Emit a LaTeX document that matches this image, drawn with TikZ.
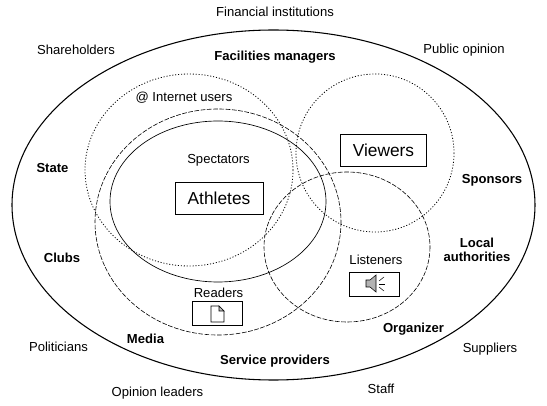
\documentclass[tikz,border=0pt]{standalone}
\usepackage{fontspec}
\setmainfont{Liberation Sans}
\usepackage{tikz}
\tikzset{
  lab/.style={font=\fontsize{9.8}{11}\selectfont,inner sep=0pt,yshift=-0.5pt},
  blab/.style={font=\fontsize{9.8}{10.6}\selectfont\bfseries,inner sep=0pt,align=center,yshift=-0.5pt},
  bbox/.style={draw,line width=0.6pt,minimum width=#1,inner sep=0pt},
  dotline/.style={line width=0.6pt,dash pattern=on 0.8pt off 1.4pt},
  dashline/.style={line width=0.45pt,dash pattern=on 3.5pt off 1.2pt}
}
\begin{document}
\begin{tikzpicture}[x=0.75pt,y=-0.75pt]
\useasboundingbox (0,0) rectangle (547,406);

\draw[line width=0.8pt] (273.5,205) ellipse [x radius=261.5,y radius=175];
\draw[dotline] (189,170) ellipse [x radius=104,y radius=96];
\draw[dotline] (375,153) ellipse [x radius=79,y radius=79];
\draw[dashline] (218,222) ellipse [x radius=123,y radius=113];
\draw[line width=0.5pt] (218,201.5) ellipse [x radius=108,y radius=80.5];
\draw[dashline] (347,247) ellipse [x radius=83,y radius=75];

\node[lab] (fin) at (275,11) {Financial institutions};
\node[lab] (share) at (76,49) {Shareholders};
\node[lab] (pub) at (464,49) {Public opinion};
\node[blab] (fac) at (275,56) {Facilities managers};
\node[lab] (inet) at (184,97) {@ Internet users};
\node[lab] (spec) at (218.5,160) {Spectators};
\node[blab] (state) at (52.5,167) {State};
\node[blab] (spons) at (492,180) {Sponsors};
\node[blab] (clubs) at (62,257) {Clubs};
\node[blab] (local) at (477,249) {Local\\authorities};
\node[lab] (list) at (376,259) {Listeners};
\node[lab] (read) at (218.5,292) {Readers};
\node[blab] (org) at (413.5,328) {Organizer};
\node[blab] (media) at (145.5,338) {Media};
\node[lab] (polit) at (58.5,346) {Politicians};
\node[lab] (suppl) at (490,348) {Suppliers};
\node[blab] (serv) at (275,360) {Service providers};
\node[lab] (staff) at (381,388) {Staff};
\node[lab] (opin) at (157.5,392) {Opinion leaders};

\node[bbox=66pt,minimum height=23.5pt,font=\fontsize{13}{14}\selectfont] (ath) at (219,198.5) {Athletes};
\node[bbox=65pt,minimum height=24pt,font=\fontsize{13}{14}\selectfont] (view) at (383.5,150) {Viewers};
\node[bbox=38pt,minimum height=18pt] (lbox) at (374.5,284) {};
\node[bbox=37.5pt,minimum height=18.5pt] (rbox) at (217,313.5) {};

% page icon
\draw[line width=0.4pt,fill=white] (211,306) -- (219,306) -- (224,311) -- (224,322) -- (211,322) -- cycle;
\draw[line width=0.4pt,fill=black!25] (219,306) -- (219,311) -- (224,311) -- cycle;
% speaker icon
\draw[line width=0.4pt,fill=black!30] (366,280) -- (370,280) -- (376,275) -- (376,292) -- (370,287) -- (366,287) -- cycle;
\draw[line width=0.4pt] (379,281) -- (384,277);
\draw[line width=0.4pt] (379,284) -- (385,284);
\draw[line width=0.4pt] (379,287) -- (384,291);

\end{tikzpicture}
\end{document}
